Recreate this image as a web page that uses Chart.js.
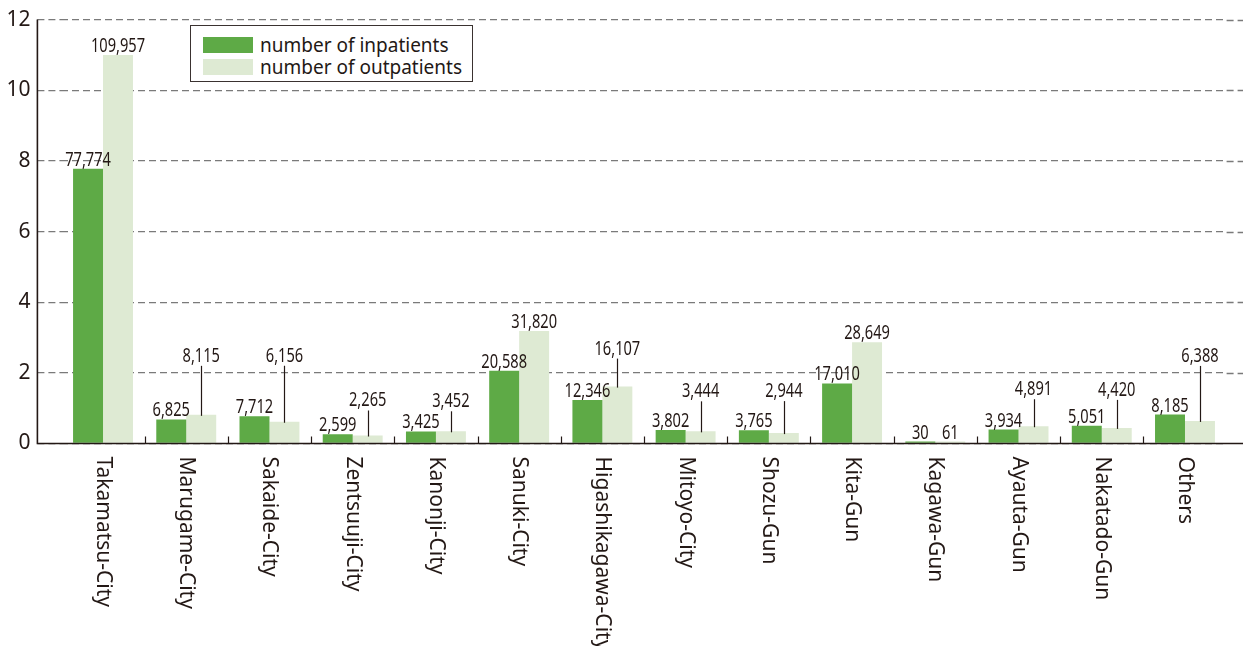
<!DOCTYPE html>
<html>
<head>
<meta charset="utf-8">
<script src="https://cdn.jsdelivr.net/npm/chart.js@4.4.1/dist/chart.umd.min.js"></script>
<style>
  html, body { margin: 0; padding: 0; background: #ffffff; }
  #wrap { position: relative; width: 1243px; height: 646px; overflow: hidden; }
  #legend {
    position: absolute; left: 190px; top: 25px; width: 281px; height: 55px;
    border: 1.3px solid #3a3230; background: #fff;
    font-family: 'Noto Sans', sans-serif; font-size: 19px; color: #231815;
  }
  .row { position: absolute; left: 12px; height: 22px; display: flex; align-items: center; white-space: nowrap; }
  .sw { width: 50px; height: 16px; margin-right: 7px; }
</style>
</head>
<body>
<div id="wrap">
  <canvas id="c" width="1243" height="646"></canvas>
  <div id="legend">
    <div class="row" style="top:8px;"><span class="sw" style="background:#5eaa46"></span><span>number of inpatients</span></div>
    <div class="row" style="top:30px;"><span class="sw" style="background:#deead3"></span><span>number of outpatients</span></div>
  </div>
</div>
<script>
// ---------------- data ----------------
const categories = ['Takamatsu-City', 'Marugame-City', 'Sakaide-City', 'Zentsuuji-City', 'Kanonji-City',
  'Sanuki-City', 'Higashikagawa-City', 'Mitoyo-City', 'Shozu-Gun', 'Kita-Gun', 'Kagawa-Gun',
  'Ayauta-Gun', 'Nakatado-Gun', 'Others'];
const inpatients  = [77774, 6825, 7712, 2599, 3425, 20588, 12346, 3802, 3765, 17010, 30, 3934, 5051, 8185];
const outpatients = [109957, 8115, 6156, 2265, 3452, 31820, 16107, 3444, 2944, 28649, 61, 4891, 4420, 6388];
const yTickValues = [0, 2, 4, 6, 8, 10, 12];
const unit = 10000; // axis is in units of 10,000 patients

// ---------------- style ----------------
const INK = '#231815';
const GRID = '#7a7a7a';
const GREEN = '#5eaa46';
const PALE = '#deead3';
const Y_TICK_LEN = 24;
const FONT = "'Noto Sans', sans-serif";
// pixel lift of outpatient labels that use a leader line (0 = plain label)
const outLabelLift = [0, 53, 60, 29, 24, 0, 32, 34, 36, 0, 0, 31, 32, 59];

const fmt = v => v.toLocaleString('en-US');

function drawNum(ctx, text, cx, baseline) {
  ctx.save();
  ctx.translate(cx, baseline);
  ctx.scale(0.75, 1);
  ctx.textAlign = 'center';
  ctx.textBaseline = 'alphabetic';
  ctx.fillText(text, 0, 0);
  ctx.restore();
}

const decor = {
  id: 'decor',
  beforeDatasetsDraw(chart) {
    const { ctx, chartArea: a, scales: { y } } = chart;
    ctx.save();
    ctx.strokeStyle = GRID;
    ctx.lineWidth = 1.3;
    ctx.setLineDash([7, 4]);
    yTickValues.forEach(v => {
      if (v === 0) return;
      const py = Math.round(y.getPixelForValue(v)) + 0.5;
      ctx.beginPath();
      ctx.moveTo(a.right, py);
      ctx.lineTo(chart.width, py);
      ctx.stroke();
    });
    ctx.restore();
  },
  afterDatasetsDraw(chart) {
    const { ctx, chartArea: a, scales: { x } } = chart;
    const axisX = a.left - Y_TICK_LEN;
    ctx.save();
    // axes
    ctx.strokeStyle = INK;
    ctx.lineWidth = 1.6;
    ctx.setLineDash([]);
    ctx.beginPath();
    ctx.moveTo(axisX, a.top);
    ctx.lineTo(axisX, a.bottom);
    ctx.lineTo(chart.width, a.bottom);
    ctx.stroke();
    // category boundary ticks
    const half = (x.getPixelForValue(1) - x.getPixelForValue(0)) / 2;
    ctx.lineWidth = 1.2;
    for (let i = 1; i < categories.length; i++) {
      const bx = Math.round(x.getPixelForValue(i) - half) + 0.5;
      ctx.beginPath();
      ctx.moveTo(bx, a.bottom);
      ctx.lineTo(bx, a.bottom - 7);
      ctx.stroke();
    }
    // category labels (rotated clockwise)
    ctx.fillStyle = INK;
    ctx.font = '21px ' + FONT;
    categories.forEach((c, i) => {
      ctx.save();
      ctx.translate(x.getPixelForValue(i), a.bottom + 13);
      ctx.rotate(Math.PI / 2);
      ctx.textAlign = 'left';
      ctx.textBaseline = 'middle';
      ctx.fillText(c, 0, 0);
      ctx.restore();
    });
    // value labels
    ctx.font = '19.5px ' + FONT;
    const mIn = chart.getDatasetMeta(0).data;
    const mOut = chart.getDatasetMeta(1).data;
    mIn.forEach((bar, i) => {
      drawNum(ctx, fmt(inpatients[i]), bar.x, bar.y - 3);
    });
    mOut.forEach((bar, i) => {
      const lift = outLabelLift[i];
      if (lift > 0) {
        const base = bar.y - lift;
        drawNum(ctx, fmt(outpatients[i]), bar.x, base);
        ctx.strokeStyle = INK;
        ctx.lineWidth = 1.2;
        const lx = Math.round(bar.x) + 0.5;
        ctx.beginPath();
        ctx.moveTo(lx, base + 4);
        ctx.lineTo(lx, bar.y + 1);
        ctx.stroke();
      } else {
        drawNum(ctx, fmt(outpatients[i]), bar.x, bar.y - 3);
      }
    });
    ctx.restore();
  }
};

new Chart(document.getElementById('c'), {
  type: 'bar',
  data: {
    labels: categories,
    datasets: [
      { label: 'number of inpatients', data: inpatients.map(v => v / unit), backgroundColor: GREEN,
        borderWidth: 0, minBarLength: 2, categoryPercentage: 0.72, barPercentage: 1.0 },
      { label: 'number of outpatients', data: outpatients.map(v => v / unit), backgroundColor: PALE,
        borderWidth: 0, minBarLength: 2, categoryPercentage: 0.72, barPercentage: 1.0 }
    ]
  },
  options: {
    responsive: false,
    animation: false,
    devicePixelRatio: 1,
    layout: { padding: { top: 17.5, right: 16.4, bottom: 202.5, left: 0 } },
    plugins: { legend: { display: false }, tooltip: { enabled: false } },
    scales: {
      x: { display: false, offset: true },
      y: {
        min: 0, max: 12,
        afterFit(scale) { scale.width = 61.4; },
        afterBuildTicks(scale) { scale.ticks = yTickValues.map(v => ({ value: v })); },
        ticks: { color: INK, font: { family: FONT, size: 21 }, padding: 7, callback: v => String(v) },
        grid: { color: GRID, lineWidth: 1.3, tickLength: Y_TICK_LEN, tickColor: GRID,
                tickBorderDash: [7, 4], tickWidth: 1.3 },
        border: { display: false, dash: [7, 4] }
      }
    }
  },
  plugins: [decor]
});
</script>
</body>
</html>
